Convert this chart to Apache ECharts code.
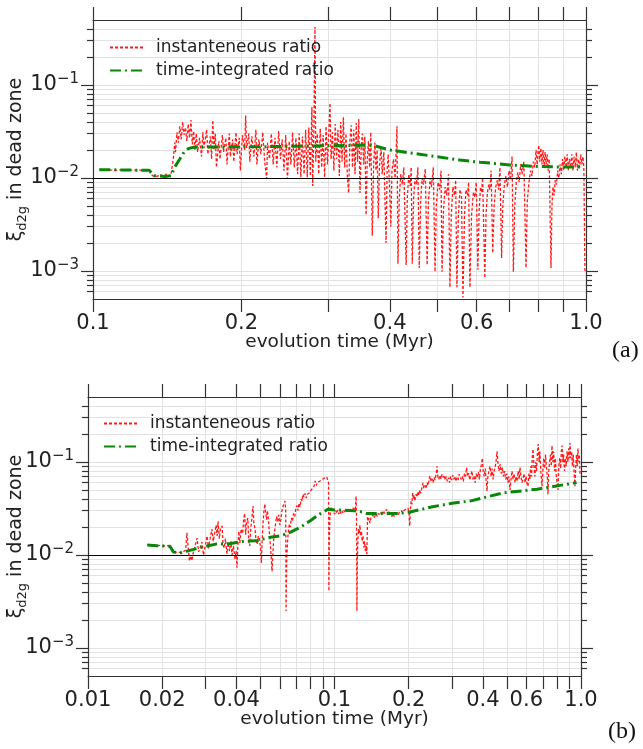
<!DOCTYPE html>
<html>
<head>
<meta charset="utf-8">
<script src="https://cdn.jsdelivr.net/npm/echarts@6/dist/echarts.min.js"></script>
<style>
  html, body { margin: 0; padding: 0; background: #fff; }
  #chart { width: 643px; height: 749px; }
</style>
</head>
<body>
<div id="chart"></div>
<script>
// ---- data: [time (Myr), xi_d2g] ----
const instA = [
  [0.103,0.0124],[0.107,0.0122],[0.111,0.0121],[0.115,0.0123],[0.119,0.0121],[0.123,0.0122],[0.127,0.0120],[0.130,0.0121],
  [0.132,0.0106],[0.135,0.0104],[0.137,0.0109],[0.139,0.0103],[0.141,0.0111],[0.143,0.0104],[0.144,0.0112],
  [0.1455,0.016],[0.1465,0.024],[0.147,0.019],[0.148,0.031],[0.149,0.024],[0.150,0.036],[0.151,0.026],[0.152,0.040],[0.153,0.029],
  [0.154,0.035],[0.155,0.025],[0.156,0.038],[0.157,0.027],[0.158,0.042],[0.159,0.023],[0.160,0.032],[0.161,0.020],[0.162,0.030],
  [0.163,0.019],[0.1645,0.027],[0.166,0.017],[0.167,0.031],[0.168,0.021],[0.170,0.033],[0.171,0.018],[0.173,0.028],[0.174,0.016],
  [0.175,0.042],[0.176,0.020],[0.177,0.030],[0.178,0.013],[0.180,0.025],[0.181,0.016],[0.183,0.029],[0.184,0.019],[0.186,0.027],
  [0.187,0.014],[0.189,0.030],[0.190,0.017],[0.192,0.026],[0.193,0.015],[0.195,0.031],[0.196,0.018],[0.198,0.027],[0.199,0.012],
  [0.201,0.029],[0.203,0.020],[0.204,0.047],[0.205,0.021],[0.207,0.030],[0.208,0.015],[0.210,0.028],[0.212,0.017],[0.214,0.033],
  [0.215,0.014],[0.217,0.026],[0.219,0.018],[0.221,0.031],[0.223,0.015],[0.225,0.0098],[0.226,0.024],[0.228,0.016],[0.230,0.030],
  [0.232,0.014],[0.234,0.027],[0.236,0.013],[0.238,0.032],[0.240,0.016],[0.242,0.026],[0.244,0.012],[0.246,0.029],[0.248,0.0098],
  [0.250,0.025],[0.252,0.014],[0.254,0.031],[0.256,0.013],[0.258,0.027],[0.260,0.011],[0.262,0.030],[0.264,0.0102],[0.266,0.028],
  [0.268,0.011],[0.270,0.033],[0.272,0.0102],[0.274,0.035],[0.276,0.0105],[0.278,0.058],[0.279,0.0082],[0.2805,0.030],[0.282,0.42],
  [0.283,0.015],[0.285,0.030],[0.287,0.011],[0.289,0.034],[0.291,0.013],[0.293,0.029],[0.295,0.0102],[0.297,0.036],[0.299,0.014],
  [0.3025,0.064],[0.304,0.016],[0.306,0.031],[0.308,0.012],[0.310,0.038],[0.312,0.016],[0.314,0.033],[0.316,0.0105],[0.318,0.040],
  [0.320,0.015],[0.322,0.045],[0.324,0.013],[0.326,0.030],[0.328,0.0105],[0.330,0.0069],[0.332,0.025],[0.334,0.037],[0.336,0.013],
  [0.338,0.033],[0.340,0.011],[0.342,0.039],[0.344,0.015],[0.346,0.043],[0.348,0.0069],[0.350,0.022],[0.352,0.030],[0.354,0.014],
  [0.356,0.028],[0.358,0.0040],[0.360,0.016],[0.362,0.025],[0.364,0.013],[0.366,0.031],[0.3685,0.0024],[0.371,0.015],[0.373,0.024],
  [0.375,0.012],[0.377,0.020],[0.379,0.0037],[0.381,0.013],[0.384,0.022],[0.386,0.011],[0.389,0.019],[0.393,0.0020],[0.395,0.012],
  [0.397,0.018],[0.399,0.009],[0.402,0.0030],[0.404,0.012],[0.407,0.016],[0.410,0.010],[0.412,0.020],[0.4136,0.036],[0.4155,0.0012],
  [0.418,0.006],[0.421,0.011],[0.424,0.0085],[0.427,0.013],[0.4317,0.00116],[0.434,0.006],[0.437,0.011],[0.440,0.0082],[0.442,0.013],
  [0.4442,0.0012],[0.447,0.006],[0.450,0.010],[0.453,0.0085],[0.456,0.013],[0.459,0.00108],[0.462,0.0055],[0.465,0.010],[0.468,0.0085],
  [0.472,0.0125],[0.4762,0.00116],[0.479,0.0055],[0.483,0.010],[0.486,0.008],[0.490,0.013],[0.4941,0.00098],[0.497,0.005],[0.501,0.009],
  [0.505,0.0075],[0.508,0.012],[0.5105,0.00098],[0.514,0.0045],[0.518,0.008],[0.522,0.0065],[0.526,0.011],[0.5297,0.00067],[0.533,0.004],
  [0.537,0.008],[0.541,0.0065],[0.544,0.0095],[0.5472,0.00067],[0.551,0.004],[0.555,0.0075],[0.559,0.0065],[0.5629,0.00052],[0.567,0.004],
  [0.571,0.0075],[0.575,0.0065],[0.578,0.009],[0.5815,0.00067],[0.586,0.004],[0.591,0.007],[0.595,0.0062],[0.599,0.0090],[0.6035,0.00103],
  [0.607,0.0045],[0.611,0.008],[0.614,0.007],[0.617,0.010],[0.6234,0.00084],[0.627,0.004],[0.631,0.007],[0.635,0.0085],[0.638,0.0075],
  [0.642,0.012],[0.6469,0.00156],[0.651,0.005],[0.656,0.008],[0.661,0.0095],[0.665,0.0075],[0.669,0.013],[0.6742,0.00138],[0.678,0.005],
  [0.683,0.0085],[0.688,0.0105],[0.693,0.008],[0.698,0.012],[0.703,0.0095],[0.708,0.017],[0.7123,0.00098],[0.717,0.005],[0.722,0.009],
  [0.727,0.0115],[0.732,0.009],[0.737,0.014],[0.742,0.011],[0.748,0.015],[0.7557,0.00108],[0.760,0.0055],[0.766,0.009],[0.772,0.012],
  [0.777,0.0105],[0.782,0.015],[0.787,0.013],[0.792,0.020],[0.796,0.014],[0.8017,0.0226],[0.806,0.015],[0.810,0.021],[0.814,0.014],
  [0.818,0.020],[0.822,0.013],[0.826,0.019],[0.830,0.014],[0.834,0.018],[0.838,0.012],[0.842,0.016],[0.8491,0.00108],[0.853,0.005],
  [0.857,0.008],[0.862,0.0065],[0.866,0.0095],[0.871,0.0085],[0.876,0.012],[0.881,0.010],[0.886,0.014],[0.891,0.011],[0.896,0.016],
  [0.901,0.012],[0.906,0.017],[0.911,0.013],[0.916,0.018],[0.921,0.012],[0.926,0.016],[0.931,0.013],[0.936,0.018],[0.941,0.012],
  [0.946,0.017],[0.951,0.013],[0.956,0.019],[0.961,0.012],[0.966,0.016],[0.971,0.013],[0.976,0.018],[0.981,0.014],[0.986,0.017],
  [0.990,0.013],[0.995,0.0010]
];
const integA = [
  [0.103,0.0123],[0.115,0.0122],[0.130,0.0121],[0.133,0.0106],[0.140,0.0104],[0.144,0.0106],[0.147,0.0135],[0.150,0.0160],
  [0.153,0.0190],[0.156,0.0207],[0.160,0.0214],[0.180,0.0216],[0.220,0.0217],[0.260,0.0220],[0.300,0.0222],[0.340,0.0225],
  [0.370,0.0224],[0.400,0.0200],[0.460,0.0180],[0.555,0.0156],[0.610,0.0148],[0.700,0.0138],[0.800,0.0133],[0.900,0.0131],[0.985,0.0131]
];
const instB = [
  [0.0174,0.0129],[0.0180,0.0127],[0.0186,0.0128],[0.0192,0.0126],[0.0198,0.0127],[0.0204,0.0125],[0.0210,0.0126],[0.0216,0.0121],
  [0.0220,0.0109],[0.0226,0.0106],[0.0232,0.0108],[0.0238,0.0106],[0.0244,0.0109],[0.0249,0.0112],[0.0252,0.0173],[0.0255,0.0120],
  [0.0258,0.0086],[0.0261,0.0098],[0.0264,0.0087],[0.0268,0.0110],[0.0272,0.0125],[0.0277,0.0152],[0.0281,0.0108],[0.0285,0.0120],
  [0.0290,0.0138],[0.0294,0.0100],[0.0299,0.0125],[0.0304,0.0160],[0.0308,0.0118],[0.0313,0.0150],[0.0318,0.0190],[0.0322,0.0140],
  [0.0327,0.0175],[0.0331,0.0210],[0.0334,0.0160],[0.0337,0.0230],[0.0341,0.0150],[0.0345,0.0195],[0.0350,0.0205],[0.0353,0.0130],
  [0.0357,0.0119],[0.0361,0.0150],[0.0366,0.0103],[0.0370,0.0135],[0.0375,0.0110],[0.0380,0.0140],[0.0384,0.0100],[0.0389,0.0125],
  [0.0395,0.0091],[0.0399,0.0110],[0.0402,0.0073],[0.0405,0.0120],[0.0409,0.0180],[0.0413,0.0135],[0.0418,0.0190],[0.0424,0.0170],
  [0.0428,0.0240],[0.0432,0.0280],[0.0436,0.0165],[0.0440,0.0230],[0.0445,0.0250],[0.0449,0.0140],[0.0453,0.0125],[0.0458,0.0200],
  [0.0463,0.0260],[0.0467,0.0336],[0.0471,0.0220],[0.0476,0.0190],[0.0481,0.0140],[0.0486,0.0130],[0.0491,0.0160],[0.0496,0.0150],
  [0.0501,0.0120],[0.0505,0.0082],[0.0509,0.0150],[0.0514,0.0240],[0.0518,0.0310],[0.0522,0.0354],[0.0526,0.0280],[0.0530,0.0240],
  [0.0534,0.0300],[0.0538,0.0260],[0.0543,0.0190],[0.0548,0.0140],[0.0553,0.0100],[0.0558,0.0067],[0.0562,0.0100],[0.0566,0.0140],
  [0.0571,0.0180],[0.0576,0.0210],[0.0582,0.0260],[0.0588,0.0230],[0.0594,0.0270],[0.0600,0.0210],[0.0606,0.0240],[0.0612,0.0300],
  [0.0618,0.0330],[0.0624,0.0360],[0.0630,0.0380],[0.0634,0.0300],[0.0636,0.0025],[0.0640,0.0090],[0.0645,0.0140],[0.0650,0.0180],
  [0.0656,0.0215],[0.0662,0.0200],[0.0668,0.0250],[0.0675,0.0230],[0.0682,0.0280],[0.0690,0.0260],[0.0697,0.0320],[0.0704,0.0340],
  [0.0711,0.0300],[0.0718,0.0360],[0.0725,0.0330],[0.0732,0.0400],[0.0739,0.0380],[0.0745,0.0450],[0.0752,0.0420],[0.0760,0.0460],
  [0.0768,0.0410],[0.0776,0.0450],[0.0785,0.0430],[0.0795,0.0470],[0.0804,0.0500],[0.0812,0.0480],[0.0820,0.0530],[0.0828,0.0560],
  [0.0835,0.0625],[0.0843,0.0560],[0.0852,0.0600],[0.0860,0.0580],[0.0870,0.0620],[0.0880,0.0600],[0.0890,0.0650],[0.0900,0.0630],
  [0.0910,0.0670],[0.0920,0.0650],[0.0930,0.0690],[0.0941,0.0710],[0.0946,0.0600],[0.0949,0.0041],[0.0953,0.0150],[0.0958,0.0250],
  [0.0965,0.0310],[0.0972,0.0330],[0.0979,0.0300],[0.0987,0.0290],[0.0995,0.0310],[0.1003,0.0275],[0.1012,0.0300],[0.1020,0.0280],
  [0.1030,0.0305],[0.1040,0.0275],[0.1050,0.0295],[0.1060,0.0280],[0.1070,0.0300],[0.1080,0.0285],[0.1090,0.0305],[0.1100,0.0290],
  [0.1112,0.0310],[0.1125,0.0290],[0.1138,0.0305],[0.1150,0.0295],[0.1163,0.0310],[0.1176,0.0300],[0.1190,0.0320],[0.1205,0.0300],
  [0.1217,0.0330],[0.1223,0.0430],[0.1228,0.0300],[0.1233,0.0025],[0.1238,0.0090],[0.1245,0.0150],[0.1252,0.0190],[0.1260,0.0170],
  [0.1268,0.0210],[0.1277,0.0160],[0.1286,0.0180],[0.1295,0.0140],[0.1305,0.0160],[0.1315,0.0120],[0.1325,0.0140],[0.1335,0.0110],
  [0.1345,0.0125],[0.1352,0.0102],[0.1357,0.0150],[0.1362,0.0260],[0.1370,0.0230],[0.1380,0.0250],[0.1392,0.0220],[0.1405,0.0250],
  [0.1418,0.0240],[0.1432,0.0270],[0.1446,0.0250],[0.1460,0.0260],[0.1475,0.0280],[0.1490,0.0260],[0.1505,0.0280],[0.1520,0.0290],
  [0.1535,0.0270],[0.1550,0.0290],[0.1565,0.0270],[0.1580,0.0300],[0.1596,0.0280],[0.1612,0.0290],[0.1628,0.0310],[0.1644,0.0280],
  [0.1660,0.0300],[0.1677,0.0270],[0.1694,0.0280],[0.1711,0.0260],[0.1728,0.0280],[0.1745,0.0260],[0.1762,0.0275],[0.1780,0.0265],
  [0.1798,0.0285],[0.1816,0.0270],[0.1834,0.0290],[0.1852,0.0280],[0.1870,0.0300],[0.1889,0.0285],[0.1908,0.0300],[0.1927,0.0290],
  [0.1946,0.0310],[0.1965,0.0300],[0.1985,0.0320],[0.2005,0.0290],[0.2020,0.0205],[0.2030,0.0300],[0.2045,0.0380],[0.2060,0.0350],
  [0.2075,0.0465],[0.2090,0.0400],[0.2105,0.0440],[0.2120,0.0380],[0.2140,0.0450],[0.2160,0.0420],[0.2180,0.0480],[0.2200,0.0440],
  [0.2220,0.0500],[0.2240,0.0460],[0.2262,0.0530],[0.2285,0.0595],[0.2305,0.0520],[0.2328,0.0560],[0.2350,0.0520],[0.2374,0.0600],
  [0.2398,0.0560],[0.2420,0.0650],[0.2440,0.0707],[0.2462,0.0620],[0.2486,0.0660],[0.2510,0.0600],[0.2535,0.0680],[0.2560,0.0640],
  [0.2585,0.0750],[0.2605,0.0900],[0.2625,0.0700],[0.2650,0.0650],[0.2677,0.0720],[0.2703,0.0660],[0.2730,0.0740],[0.2757,0.0680],
  [0.2785,0.0720],[0.2813,0.0640],[0.2841,0.0700],[0.2870,0.0620],[0.2899,0.0680],[0.2928,0.0600],[0.2957,0.0700],[0.2987,0.0640],
  [0.3017,0.0720],[0.3047,0.0650],[0.3078,0.0700],[0.3109,0.0620],[0.3140,0.0680],[0.3172,0.0640],[0.3204,0.0740],[0.3236,0.0760],
  [0.3268,0.0650],[0.3300,0.0700],[0.3333,0.0620],[0.3367,0.0750],[0.3400,0.0700],[0.3434,0.0870],[0.3468,0.0700],[0.3503,0.0760],
  [0.3538,0.0640],[0.3574,0.0720],[0.3610,0.0800],[0.3646,0.0650],[0.3683,0.0700],[0.3720,0.0600],[0.3757,0.0750],[0.3795,0.0680],
  [0.3833,0.0780],[0.3871,0.0650],[0.3910,0.0850],[0.3949,0.0950],[0.3980,0.1100],[0.4010,0.0800],[0.4050,0.0700],[0.4090,0.0850],
  [0.4130,0.0600],[0.4156,0.0487],[0.4190,0.0700],[0.4230,0.0800],[0.4274,0.0900],[0.4320,0.0700],[0.4360,0.0850],[0.4400,0.0650],
  [0.4440,0.0800],[0.4490,0.0900],[0.4530,0.1050],[0.4563,0.1300],[0.4600,0.1000],[0.4650,0.0800],[0.4700,0.0950],[0.4750,0.0750],
  [0.4800,0.0870],[0.4850,0.0700],[0.4900,0.0800],[0.4950,0.0650],[0.5000,0.0750],[0.5050,0.0600],[0.5100,0.0700],[0.5152,0.0500],
  [0.5200,0.0650],[0.5250,0.0800],[0.5300,0.0650],[0.5350,0.0750],[0.5400,0.0600],[0.5450,0.0700],[0.5500,0.0620],[0.5560,0.0800],
  [0.5610,0.0650],[0.5655,0.0870],[0.5710,0.0700],[0.5760,0.0600],[0.5818,0.0650],[0.5870,0.0750],[0.5930,0.0600],[0.5990,0.0700],
  [0.6040,0.0580],[0.6095,0.0550],[0.6150,0.0750],[0.6200,0.0650],[0.6250,0.0900],[0.6300,0.0700],[0.6340,0.1100],[0.6389,0.1380],
  [0.6440,0.0900],[0.6500,0.0700],[0.6550,0.1000],[0.6600,0.0800],[0.6650,0.1200],[0.6706,0.1560],[0.6760,0.1000],[0.6810,0.1300],
  [0.6870,0.0800],[0.6948,0.0550],[0.7000,0.0800],[0.7060,0.1100],[0.7120,0.0850],[0.7180,0.1200],[0.7240,0.0900],[0.7300,0.0700],
  [0.7346,0.0450],[0.7400,0.0800],[0.7460,0.1000],[0.7520,0.1200],[0.7580,0.0900],[0.7627,0.1500],[0.7690,0.1000],[0.7750,0.1300],
  [0.7810,0.0800],[0.7870,0.1100],[0.7940,0.0700],[0.8000,0.0600],[0.8067,0.0500],[0.8130,0.0900],[0.8200,0.1100],[0.8270,0.0850],
  [0.8320,0.1300],[0.8375,0.1500],[0.8440,0.1000],[0.8500,0.1200],[0.8570,0.0800],[0.8640,0.1100],[0.8710,0.0900],[0.8780,0.1300],
  [0.8850,0.1000],[0.8920,0.1400],[0.8980,0.1100],[0.9024,0.1600],[0.9090,0.1100],[0.9160,0.1300],[0.9230,0.0900],[0.9300,0.1200],
  [0.9370,0.0800],[0.9456,0.0550],[0.9520,0.0900],[0.9590,0.1200],[0.9650,0.0900],[0.9722,0.1400],[0.9780,0.1000],[0.9840,0.1200],
  [0.9910,0.0740]
];
const integB = [
  [0.0174,0.0128],[0.0190,0.0126],[0.0215,0.0124],[0.0222,0.0108],[0.0240,0.0106],[0.0252,0.0110],[0.0285,0.0120],[0.0330,0.0131],
  [0.0380,0.0133],[0.0430,0.0141],[0.0480,0.0142],[0.0510,0.0148],[0.0550,0.0155],[0.0600,0.0160],[0.0660,0.0175],[0.0730,0.0200],
  [0.0800,0.0235],[0.0870,0.0275],[0.0940,0.0310],[0.1000,0.0305],[0.1200,0.0300],[0.1300,0.0290],[0.1350,0.0280],[0.1500,0.0280],
  [0.1800,0.0280],[0.2025,0.0290],[0.2500,0.0330],[0.3000,0.0360],[0.3545,0.0380],[0.4827,0.0465],[0.6630,0.0510],[0.9600,0.0600]
];

// axis ticks / labels
const xTicksA = [0.1,0.2,0.3,0.4,0.5,0.6,0.7,0.8,0.9,1.0];
const xLabelsA = [0.1,0.2,0.4,0.6,1.0];
const xTicksB = [0.01,0.02,0.03,0.04,0.05,0.06,0.07,0.08,0.09,0.1,0.2,0.3,0.4,0.5,0.6,0.7,0.8,0.9,1.0];
const xLabelsB = [0.01,0.02,0.04,0.1,0.2,0.4,0.6,1.0];
const yMajor = [0.001,0.01,0.1];
const yMinor = [0.0006,0.0007,0.0008,0.0009,0.002,0.003,0.004,0.005,0.006,0.007,0.008,0.009,
                0.02,0.03,0.04,0.05,0.06,0.07,0.08,0.09,0.2,0.3,0.4];
const yRange = [0.0005, 0.5];

const FONT = 'DejaVu Sans';
const AXIS_COLOR = '#333';
const GRID_COLOR = '#e2e2e2';

const chart = echarts.init(document.getElementById('chart'));

function xAxis(grid, min, ticks, labels, pos) {
  const bottom = pos === 'bottom';
  return {
    type: 'log', logBase: 10, gridIndex: grid, position: pos, min: min, max: 1,
    axisLine: { show: true, lineStyle: { color: AXIS_COLOR, width: 1.2 } },
    axisTick: { show: true, inside: false, length: 13, customValues: ticks, lineStyle: { color: AXIS_COLOR, width: 1.2 } },
    axisLabel: {
      show: bottom, customValues: labels, margin: 14, color: '#222', fontSize: 21, fontFamily: FONT,
      formatter: v => (v >= 0.999 ? '1.0' : (+v).toPrecision(1))
    },
    splitLine: { show: bottom, lineStyle: { color: GRID_COLOR, width: 1 } },
    name: bottom ? 'evolution time (Myr)' : '',
    nameLocation: 'middle', nameGap: 34, nameMoveOverlap: false,
    nameTextStyle: { fontSize: 18.5, fontFamily: FONT, color: '#222' }
  };
}

function yAxis(grid, pos, major) {
  const left = pos === 'left';
  const ax = {
    type: 'log', logBase: 10, gridIndex: grid, position: pos, min: yRange[0], max: yRange[1],
    axisLine: { show: major, lineStyle: { color: AXIS_COLOR, width: 1.2 } },
    axisTick: { show: true, inside: false, length: major ? 12 : 6, customValues: major ? yMajor : yMinor,
                lineStyle: { color: AXIS_COLOR, width: 1.2 } },
    axisLabel: { show: false },
    splitLine: { show: left, lineStyle: { color: GRID_COLOR, width: 1 } }
  };
  if (left && major) {
    ax.axisLabel = {
      show: true, customValues: yMajor, margin: 14, color: '#222', fontFamily: FONT,
      formatter: v => '{b|10}{s|\u2212' + Math.round(-Math.log10(v)) + '}',
      rich: {
        b: { fontSize: 21, lineHeight: 26, fontFamily: FONT, color: '#222' },
        s: { fontSize: 15, lineHeight: 15, verticalAlign: 'top', fontFamily: FONT, color: '#222' }
      }
    };
    ax.name = '{a|\u03be}{d|d2g}{a| in dead zone}';
    ax.nameLocation = 'middle';
    ax.nameGap = grid === 0 ? 64 : 59;
    ax.nameRotate = 90;
    ax.nameMoveOverlap = false;
    ax.nameTextStyle = {
      fontFamily: FONT, color: '#222',
      rich: {
        a: { fontSize: 19, lineHeight: 26, fontFamily: FONT, color: '#222' },
        d: { fontSize: 13, lineHeight: 13, verticalAlign: 'bottom', fontFamily: FONT, color: '#222' }
      }
    };
  }
  return ax;
}

const refLine = {
  silent: true, symbol: 'none', animation: false,
  label: { show: false },
  lineStyle: { color: '#000', type: 'solid', width: 1.2 },
  data: [{ yAxis: 0.01 }]
};

function series(grid, data, kind) {
  const inst = kind === 'inst';
  return {
    name: inst ? 'instanteneous ratio' : 'time-integrated ratio',
    type: 'line', xAxisIndex: grid * 2, yAxisIndex: grid * 4,
    data: data, showSymbol: false, symbol: 'none', smooth: false,
    lineStyle: inst ? { color: '#ff1a1a', width: 1.3, type: [3, 2] }
                    : { color: '#0a870a', width: 3, type: [11, 4, 2, 4] },
    itemStyle: { color: inst ? '#ff1a1a' : '#0a870a' },
    z: inst ? 2 : 3,
    markLine: inst ? refLine : undefined
  };
}

function legend(left, top) {
  return {
    left: left, top: top, orient: 'vertical', selectedMode: false,
    itemWidth: 34, itemHeight: 14, itemGap: 6,
    itemStyle: { opacity: 0 },
    data: ['instanteneous ratio', 'time-integrated ratio'],
    textStyle: { fontSize: 17, fontFamily: FONT, color: '#222', padding: [0, 0, 0, 7] }
  };
}

const option = {
  animation: false,
  backgroundColor: '#fff',
  grid: [
    { left: 93, top: 20, width: 493, height: 279, containLabel: false, outerBoundsMode: 'none' },
    { left: 88, top: 397, width: 493, height: 279, containLabel: false, outerBoundsMode: 'none' }
  ],
  xAxis: [
    xAxis(0, 0.1, xTicksA, xLabelsA, 'bottom'),
    xAxis(0, 0.1, xTicksA, xLabelsA, 'top'),
    xAxis(1, 0.01, xTicksB, xLabelsB, 'bottom'),
    xAxis(1, 0.01, xTicksB, xLabelsB, 'top')
  ],
  yAxis: [
    yAxis(0, 'left', true), yAxis(0, 'left', false), yAxis(0, 'right', true), yAxis(0, 'right', false),
    yAxis(1, 'left', true), yAxis(1, 'left', false), yAxis(1, 'right', true), yAxis(1, 'right', false)
  ],
  legend: [legend(104, 34), legend(98, 410)],
  series: [
    series(0, instA, 'inst'), series(0, integA, 'integ'),
    series(1, instB, 'inst'), series(1, integB, 'integ')
  ],
  graphic: [
    { type: 'text', left: 612, top: 339, style: { text: '(a)', fontSize: 24, fontFamily: 'Liberation Serif', fill: '#111' } },
    { type: 'text', left: 608, top: 720, style: { text: '(b)', fontSize: 24, fontFamily: 'Liberation Serif', fill: '#111' } }
  ]
};

chart.setOption(option);
</script>
</body>
</html>
